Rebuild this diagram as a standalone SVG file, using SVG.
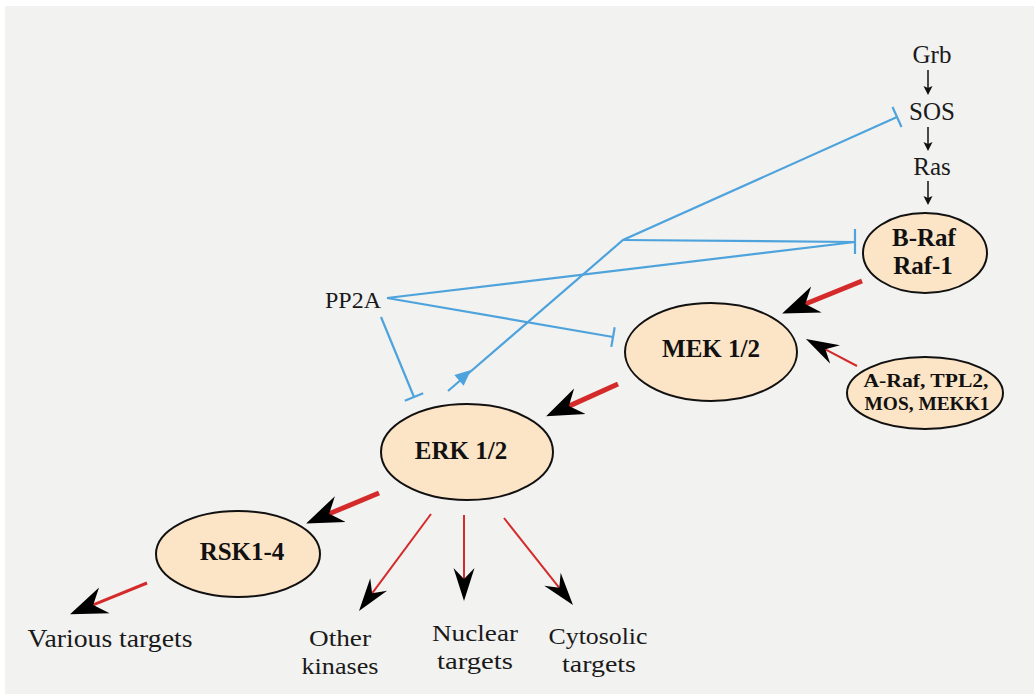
<svg xmlns="http://www.w3.org/2000/svg" width="1034" height="700" viewBox="0 0 1034 700">
<defs>
<style>
.bg{fill:#f2f2f1}
.node ellipse{fill:#fce4c6;stroke:#111;stroke-width:2}
.bt{font-family:"Liberation Serif",serif;font-weight:bold;font-size:25px;fill:#111;text-anchor:middle}
.lt{font-family:"Liberation Serif",serif;font-size:25px;fill:#1a1a1a;text-anchor:middle}
.bl{font-size:24px}
.sm{font-size:19px}
.red{stroke:#d42a2a;fill:none}
.thick{stroke-width:5}
.thin{stroke-width:2}
.blue{stroke:#4ea3dc;stroke-width:2.2;fill:none}
.blk{stroke:#111;stroke-width:1.5;fill:none}
</style>
<marker id="hL" markerUnits="userSpaceOnUse" markerWidth="42" markerHeight="32" viewBox="0 -16 42 32" refX="12" refY="0" orient="auto">
<path d="M37,0 L0,-14 L12,0 L0,14 Z" fill="#000"/>
</marker>
<marker id="hS" markerUnits="userSpaceOnUse" markerWidth="36" markerHeight="24" viewBox="0 -12 36 24" refX="11" refY="0" orient="auto">
<path d="M33,0 L0,-10.5 L11,0 L0,10.5 Z" fill="#000"/>
</marker>
<marker id="hB" markerUnits="userSpaceOnUse" markerWidth="12" markerHeight="12" viewBox="0 -6 12 12" refX="2" refY="0" orient="auto">
<path d="M9,0 L0,-4.5 L2,0 L0,4.5 Z" fill="#111"/>
</marker>
</defs>
<rect class="bg" x="5" y="6" width="1029" height="688"/>

<g id="connectors">
<line class="blk" x1="928" y1="70" x2="928" y2="88" marker-end="url(#hB)"/>
<line class="blk" x1="928" y1="127" x2="928" y2="144" marker-end="url(#hB)"/>
<line class="blk" x1="928" y1="181" x2="928" y2="198" marker-end="url(#hB)"/>
<polyline class="blue" points="448,391 623,240 897,117"/>
<line class="blue" x1="892.5" y1="107" x2="901.5" y2="127"/>
<line class="blue" x1="623" y1="240" x2="855" y2="242"/>
<line class="blue" x1="387" y1="298" x2="855" y2="242"/>
<line class="blue" x1="855" y1="229" x2="855" y2="254"/>
<line class="blue" x1="387" y1="298" x2="613" y2="337"/>
<line class="blue" x1="614.7" y1="327.2" x2="611.3" y2="346.9"/>
<line class="blue" x1="381" y1="317" x2="414" y2="397"/>
<line class="blue" x1="423.2" y1="393.2" x2="404.8" y2="400.8"/>
<polygon points="471,370 463.6,385.7 454.4,375.1" fill="#4ea3dc"/>
<line class="red thick" x1="862" y1="281" x2="805.3" y2="304" marker-end="url(#hL)"/>
<line class="red thick" x1="618" y1="384" x2="568.9" y2="406.1" marker-end="url(#hL)"/>
<line class="red thick" x1="379" y1="493" x2="329.2" y2="513.8" marker-end="url(#hL)"/>
<line class="red" stroke-width="3" x1="147" y1="583" x2="93.2" y2="604.9" marker-end="url(#hL)"/>
<line class="red thin" x1="857" y1="366" x2="825.4" y2="349.3" marker-end="url(#hS)"/>
<line class="red thin" x1="431" y1="514" x2="372.1" y2="593.3" marker-end="url(#hS)"/>
<line class="red thin" x1="464" y1="515" x2="464" y2="579" marker-end="url(#hS)"/>
<line class="red thin" x1="504" y1="518" x2="559.3" y2="587.8" marker-end="url(#hS)"/>
</g>

<g id="grb"><text class="lt" x="932" y="63">Grb</text></g>
<g id="sos"><text class="lt" x="932" y="120">SOS</text></g>
<g id="ras"><text class="lt" x="932" y="175">Ras</text></g>
<g id="pp2a"><text class="lt bl" x="353" y="308">PP2A</text></g>

<g id="braf" class="node">
<ellipse cx="925" cy="253" rx="62" ry="40"/>
<text class="bt" x="924" y="246">B-Raf</text>
<text class="bt" x="923" y="274">Raf-1</text>
</g>
<g id="mek" class="node">
<ellipse cx="711" cy="352" rx="86" ry="49"/>
<text class="bt" x="711" y="357">MEK 1/2</text>
</g>
<g id="araf" class="node">
<ellipse cx="925" cy="393" rx="78" ry="36"/>
<text class="bt sm" x="926" y="387" textLength="125" lengthAdjust="spacingAndGlyphs">A-Raf, TPL2,</text>
<text class="bt sm" x="927" y="410" textLength="125" lengthAdjust="spacingAndGlyphs">MOS, MEKK1</text>
</g>
<g id="erk" class="node">
<ellipse cx="467" cy="452" rx="86" ry="48"/>
<text class="bt" x="461" y="459">ERK 1/2</text>
</g>
<g id="rsk" class="node">
<ellipse cx="238" cy="554" rx="82" ry="43"/>
<text class="bt" x="242" y="560">RSK1-4</text>
</g>

<g id="various"><text class="lt" x="110" y="647" style="font-size:26px" textLength="165" lengthAdjust="spacingAndGlyphs">Various targets</text></g>
<g id="other"><text class="lt bl" x="340" y="646" textLength="62" lengthAdjust="spacingAndGlyphs">Other</text><text class="lt bl" x="340" y="674" textLength="77" lengthAdjust="spacingAndGlyphs">kinases</text></g>
<g id="nuclear"><text class="lt bl" x="475" y="641" textLength="86" lengthAdjust="spacingAndGlyphs">Nuclear</text><text class="lt bl" x="475" y="669" textLength="76" lengthAdjust="spacingAndGlyphs">targets</text></g>
<g id="cytosolic"><text class="lt bl" x="598" y="644" textLength="99" lengthAdjust="spacingAndGlyphs">Cytosolic</text><text class="lt bl" x="599" y="672" textLength="74" lengthAdjust="spacingAndGlyphs">targets</text></g>
</svg>
